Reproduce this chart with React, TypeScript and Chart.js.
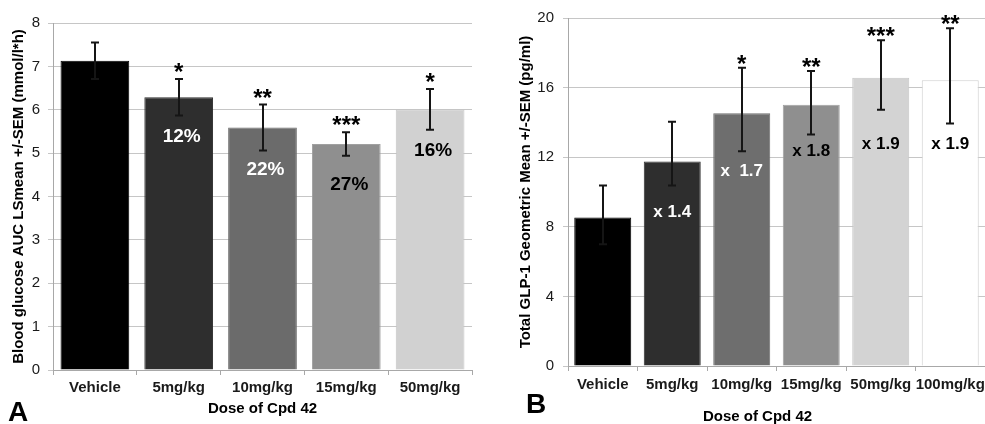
import React, { useEffect, useRef } from "react";
import { Chart, registerables } from "chart.js";

Chart.register(...registerables);

const FONT = "'Liberation Sans', Arial, Helvetica, sans-serif";

// ---------- Panel A: blood glucose AUC ----------
const doseA = ["Vehicle", "5mg/kg", "10mg/kg", "15mg/kg", "50mg/kg"];
const glucoseMean = [7.13, 6.29, 5.59, 5.21, 6.01];
const glucoseSem = [0.42, 0.42, 0.53, 0.27, 0.47];
const glucoseStars = ["", "*", "**", "***", "*"];
const glucoseLabels = ["", "12%", "22%", "27%", "16%"];
const glucoseLabelAt = [0, 5.37, 4.61, 4.27, 5.05];
const glucoseLabelColors = ["#ffffff", "#ffffff", "#ffffff", "#000000", "#000000"];
const glucoseBarColors = ["#000000", "#2e2e2e", "#6b6b6b", "#8f8f8f", "#d1d1d1"];
const glucoseBorderColors = ["#000000", "#2e2e2e", "#6b6b6b", "#a0a0a0", "#c4c4c4"];

// ---------- Panel B: total GLP-1 ----------
const doseB = ["Vehicle", "5mg/kg", "10mg/kg", "15mg/kg", "50mg/kg", "100mg/kg"];
const glpMean = [8.53, 11.75, 14.53, 15.01, 16.57, 16.42];
const glpUpper = [10.38, 14.04, 17.14, 16.95, 18.72, 19.41];
const glpLower = [7.0, 10.38, 12.34, 13.3, 14.72, 13.94];
const glpStars = ["", "", "*", "**", "***", "**"];
const glpLabels = ["", "x 1.4", "x  1.7", "x 1.8", "x 1.9", "x 1.9"];
const glpLabelAt = [0, 8.86, 11.2, 12.34, 12.74, 12.74];
const glpLabelColors = ["#ffffff", "#ffffff", "#ffffff", "#000000", "#000000", "#000000"];
const glpBarColors = ["#000000", "#2e2e2e", "#6e6e6e", "#8f8f8f", "#d3d3d3", "#ffffff"];
const glpBorderColors = ["#000000", "#2e2e2e", "#6e6e6e", "#a0a0a0", "#c6c6c6", "#cfcfcf"];

type Extras = {
  id: string;
  hi: number[];
  lo: number[];
  stars: string[];
  starDy: number;
  labels: string[];
  labelAt: number[];
  labelColors: string[];
  labelFont: string;
  labelDx: number;
  xTitle: string;
  xTitleDx: number;
  xTitleY: number;
  letter: string;
  letterX: number;
  letterY: number;
};

function makeExtras(cfg: Extras) {
  return {
    id: cfg.id,
    afterDatasetsDraw(chart: any) {
      const ctx = chart.ctx;
      const meta = chart.getDatasetMeta(0);
      const y = chart.scales.y;
      ctx.save();
      // error bars
      ctx.strokeStyle = "#151515";
      ctx.lineWidth = 2;
      meta.data.forEach((bar: any, i: number) => {
        const x = Math.round(bar.x);
        const yt = y.getPixelForValue(cfg.hi[i]);
        const yb = y.getPixelForValue(cfg.lo[i]);
        ctx.beginPath();
        ctx.moveTo(x, yt);
        ctx.lineTo(x, yb);
        ctx.moveTo(x - 4, yt);
        ctx.lineTo(x + 4, yt);
        ctx.moveTo(x - 4, yb);
        ctx.lineTo(x + 4, yb);
        ctx.stroke();
      });
      // significance stars
      ctx.fillStyle = "#000";
      ctx.font = `bold 24px ${FONT}`;
      ctx.textAlign = "center";
      ctx.textBaseline = "alphabetic";
      meta.data.forEach((bar: any, i: number) => {
        if (!cfg.stars[i]) return;
        const yt = y.getPixelForValue(cfg.hi[i]);
        ctx.fillText(cfg.stars[i], bar.x, yt + cfg.starDy);
      });
      // in-bar labels
      ctx.font = cfg.labelFont;
      ctx.textBaseline = "middle";
      meta.data.forEach((bar: any, i: number) => {
        if (!cfg.labels[i]) return;
        ctx.fillStyle = cfg.labelColors[i];
        ctx.fillText(cfg.labels[i], bar.x + cfg.labelDx, y.getPixelForValue(cfg.labelAt[i]));
      });
      // x-axis title
      const area = chart.chartArea;
      ctx.fillStyle = "#000";
      ctx.font = `bold 15px ${FONT}`;
      ctx.fillText(cfg.xTitle, (area.left + area.right) / 2 + cfg.xTitleDx, cfg.xTitleY);
      // panel letter
      ctx.font = `bold 28px ${FONT}`;
      ctx.textAlign = "left";
      ctx.textBaseline = "alphabetic";
      ctx.fillText(cfg.letter, cfg.letterX, cfg.letterY);
      ctx.restore();
    },
  };
}

function baseOptions(opts: {
  padTop: number;
  padRight: number;
  yMax: number;
  yStep: number;
  yWidth: number;
  xHeight: number;
  yTitle: string;
  yTitlePad: number;
  yTickPad: number;
  xTickPad: number;
}) {
  return {
    responsive: false,
    animation: false,
    devicePixelRatio: 1,
    layout: { padding: { top: opts.padTop, right: opts.padRight, bottom: 0, left: 0 } },
    plugins: { legend: { display: false }, tooltip: { enabled: false } },
    scales: {
      x: {
        grid: { offset: true, drawOnChartArea: false, tickLength: 5, color: "#a8a8a8" },
        border: { color: "#a8a8a8" },
        ticks: {
          font: { family: FONT, size: 15, weight: "bold" },
          color: "#1a1a1a",
          padding: opts.xTickPad,
          maxRotation: 0,
          autoSkip: false,
        },
        afterFit: (s: any) => {
          s.height = opts.xHeight;
        },
      },
      y: {
        min: 0,
        max: opts.yMax,
        ticks: {
          stepSize: opts.yStep,
          font: { family: FONT, size: 15 },
          color: "#1a1a1a",
          padding: opts.yTickPad,
        },
        grid: { color: "#c6c6c6", tickLength: 5 },
        border: { color: "#a8a8a8" },
        title: {
          display: true,
          text: opts.yTitle,
          font: { family: FONT, size: 15, weight: "bold" },
          color: "#000",
          padding: { top: opts.yTitlePad, bottom: 0 },
        },
        afterFit: (s: any) => {
          s.width = opts.yWidth;
        },
      },
    },
  };
}

export default function App() {
  const refA = useRef<HTMLCanvasElement>(null);
  const refB = useRef<HTMLCanvasElement>(null);

  useEffect(() => {
    Chart.defaults.font.family = FONT;

    const chartA = new Chart(refA.current as HTMLCanvasElement, {
      type: "bar",
      data: {
        labels: doseA,
        datasets: [
          {
            data: glucoseMean,
            backgroundColor: glucoseBarColors,
            borderColor: glucoseBorderColors,
            borderWidth: 1,
            barPercentage: 0.82,
            categoryPercentage: 1,
          },
        ],
      },
      options: baseOptions({
        padTop: 23,
        padRight: 18,
        yMax: 8,
        yStep: 1,
        yWidth: 53,
        xHeight: 54,
        yTitle: "Blood glucose AUC LSmean +/-SEM (mmol/l*h)",
        yTitlePad: 10,
        yTickPad: 8,
        xTickPad: 4,
      }) as any,
      plugins: [
        makeExtras({
          id: "extrasA",
          hi: glucoseMean.map((v, i) => v + glucoseSem[i]),
          lo: glucoseMean.map((v, i) => v - glucoseSem[i]),
          stars: glucoseStars,
          starDy: 1,
          labels: glucoseLabels,
          labelAt: glucoseLabelAt,
          labelColors: glucoseLabelColors,
          labelFont: `bold 19px ${FONT}`,
          labelDx: 3,
          xTitle: "Dose of Cpd 42",
          xTitleDx: 0,
          xTitleY: 409,
          letter: "A",
          letterX: 8,
          letterY: 421,
        }),
      ],
    });

    const chartB = new Chart(refB.current as HTMLCanvasElement, {
      type: "bar",
      data: {
        labels: doseB,
        datasets: [
          {
            data: glpMean,
            backgroundColor: glpBarColors,
            borderColor: glpBorderColors,
            borderWidth: 1,
            barPercentage: 0.82,
            categoryPercentage: 1,
          },
        ],
      },
      options: baseOptions({
        padTop: 16,
        padRight: 27,
        yMax: 20,
        yStep: 4,
        yWidth: 76,
        xHeight: 58,
        yTitle: "Total GLP-1 Geometric Mean +/-SEM (pg/ml)",
        yTitlePad: 25,
        yTickPad: 9,
        xTickPad: 5,
      }) as any,
      plugins: [
        makeExtras({
          id: "extrasB",
          hi: glpUpper,
          lo: glpLower,
          stars: glpStars,
          starDy: 4,
          labels: glpLabels,
          labelAt: glpLabelAt,
          labelColors: glpLabelColors,
          labelFont: `bold 17px ${FONT}`,
          labelDx: 0,
          xTitle: "Dose of Cpd 42",
          xTitleDx: -19,
          xTitleY: 417,
          letter: "B",
          letterX: 34,
          letterY: 413,
        }),
      ],
    });

    return () => {
      chartA.destroy();
      chartB.destroy();
    };
  }, []);

  return (
    <div
      style={{
        position: "absolute",
        left: 0,
        top: 0,
        width: 985,
        height: 424,
        overflow: "hidden",
        background: "#ffffff",
      }}
    >
      <canvas
        ref={refA}
        width={490}
        height={424}
        style={{ position: "absolute", left: 0, top: 0 }}
      />
      <canvas
        ref={refB}
        width={520}
        height={424}
        style={{ position: "absolute", left: 492, top: 0 }}
      />
    </div>
  );
}
